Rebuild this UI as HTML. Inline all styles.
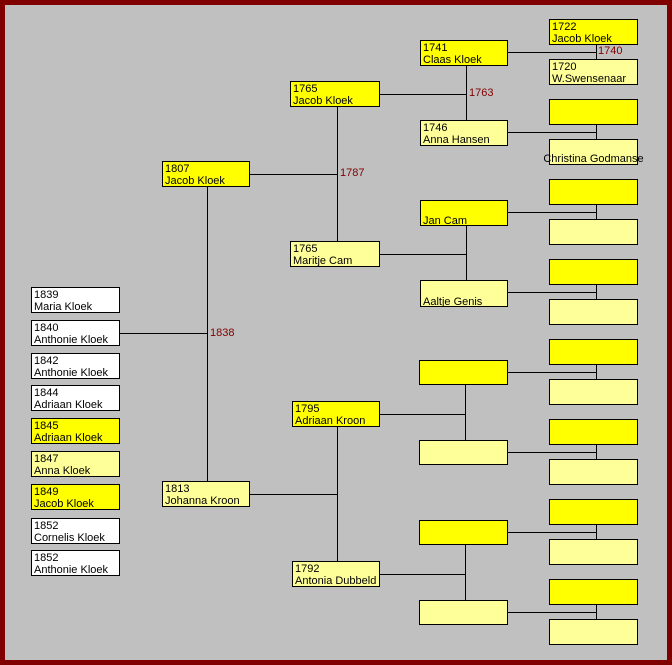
<!DOCTYPE html>
<html><head><meta charset="utf-8"><style>
html,body{margin:0;padding:0}
#f{position:relative;width:672px;height:665px;background:#800000;overflow:hidden}
#c{position:absolute;left:5px;top:5px;width:662px;height:655px;background:#c0c0c0}
.b{position:absolute;box-sizing:border-box;border:1px solid #000;font:11px/12px "Liberation Sans",sans-serif;color:#000;padding:1px 1px 0 2px;white-space:nowrap;height:26px;overflow:hidden}
.y{background:#ffff00}.l{background:#ffff99}.w{background:#fff}
.h,.v{position:absolute;background:#000}
.h{height:1px}.v{width:1px}
.t{position:absolute;font:11px/13px "Liberation Sans",sans-serif;color:#800000}
</style></head><body><div id="f"><div id="c"></div>
<div class="h" style="left:120px;top:333px;width:87px"></div>
<div class="v" style="left:207px;top:186px;height:295px"></div>
<div class="t" style="left:210px;top:327px">1838</div>
<div class="h" style="left:250px;top:174px;width:87px"></div>
<div class="v" style="left:337px;top:107px;height:134px"></div>
<div class="t" style="left:340px;top:167px">1787</div>
<div class="h" style="left:250px;top:494px;width:87px"></div>
<div class="v" style="left:337px;top:427px;height:134px"></div>
<div class="h" style="left:380px;top:94px;width:86px"></div>
<div class="v" style="left:466px;top:66px;height:54px"></div>
<div class="t" style="left:469px;top:87px">1763</div>
<div class="h" style="left:380px;top:254px;width:86px"></div>
<div class="v" style="left:466px;top:226px;height:54px"></div>
<div class="h" style="left:380px;top:414px;width:85px"></div>
<div class="v" style="left:465px;top:385px;height:55px"></div>
<div class="h" style="left:380px;top:574px;width:85px"></div>
<div class="v" style="left:465px;top:545px;height:55px"></div>
<div class="t" style="left:598px;top:45px">1740</div>
<div class="h" style="left:508px;top:52px;width:88px"></div><div class="v" style="left:596px;top:45px;height:14px"></div>
<div class="h" style="left:508px;top:132px;width:88px"></div><div class="v" style="left:596px;top:125px;height:14px"></div>
<div class="h" style="left:508px;top:212px;width:88px"></div><div class="v" style="left:596px;top:205px;height:14px"></div>
<div class="h" style="left:508px;top:292px;width:88px"></div><div class="v" style="left:596px;top:285px;height:14px"></div>
<div class="h" style="left:508px;top:372px;width:88px"></div><div class="v" style="left:596px;top:365px;height:14px"></div>
<div class="h" style="left:508px;top:452px;width:88px"></div><div class="v" style="left:596px;top:445px;height:14px"></div>
<div class="h" style="left:508px;top:532px;width:88px"></div><div class="v" style="left:596px;top:525px;height:14px"></div>
<div class="h" style="left:508px;top:612px;width:88px"></div><div class="v" style="left:596px;top:605px;height:14px"></div>
<div class="b w" style="left:31px;top:287px;width:89px">1839<br>Maria Kloek</div>
<div class="b w" style="left:31px;top:320px;width:89px">1840<br>Anthonie Kloek</div>
<div class="b w" style="left:31px;top:353px;width:89px">1842<br>Anthonie Kloek</div>
<div class="b w" style="left:31px;top:385px;width:89px">1844<br>Adriaan Kloek</div>
<div class="b y" style="left:31px;top:418px;width:89px">1845<br>Adriaan Kloek</div>
<div class="b l" style="left:31px;top:451px;width:89px">1847<br>Anna Kloek</div>
<div class="b y" style="left:31px;top:484px;width:89px">1849<br>Jacob Kloek</div>
<div class="b w" style="left:31px;top:518px;width:89px">1852<br>Cornelis Kloek</div>
<div class="b w" style="left:31px;top:550px;width:89px">1852<br>Anthonie Kloek</div>
<div class="b y" style="left:162px;top:161px;width:88px">1807<br>Jacob Kloek</div>
<div class="b l" style="left:162px;top:481px;width:88px">1813<br>Johanna Kroon</div>
<div class="b y" style="left:290px;top:81px;width:90px">1765<br>Jacob Kloek</div>
<div class="b l" style="left:290px;top:241px;width:90px">1765<br>Maritje Cam</div>
<div class="b y" style="left:292px;top:401px;width:88px">1795<br>Adriaan Kroon</div>
<div class="b l" style="left:292px;top:561px;width:88px">1792<br>Antonia Dubbeld</div>
<div class="b y" style="left:420px;top:40px;width:88px">1741<br>Claas Kloek</div>
<div class="b l" style="left:420px;top:120px;width:88px">1746<br>Anna Hansen</div>
<div class="b y" style="left:420px;top:200px;width:88px;padding-top:2px"><br>Jan Cam</div>
<div class="b l" style="left:420px;top:280px;width:88px;height:27px;padding-top:3px"><br>Aaltje Genis</div>
<div class="b y" style="left:419px;top:360px;width:89px;height:25px"></div>
<div class="b l" style="left:419px;top:440px;width:89px;height:25px"></div>
<div class="b y" style="left:419px;top:520px;width:89px;height:25px"></div>
<div class="b l" style="left:419px;top:600px;width:89px;height:25px"></div>
<div class="b y" style="left:549px;top:19px;width:89px">1722<br>Jacob Kloek</div>
<div class="b l" style="left:549px;top:59px;width:89px">1720<br>W.Swensenaar</div>
<div class="b y" style="left:549px;top:99px;width:89px"></div>
<div class="b l" style="left:549px;top:139px;width:89px;overflow:visible;padding:1px 0 0 0;text-align:center"><br><span style="margin-left:-8px;margin-right:-8px">Christina Godmanse</span></div>
<div class="b y" style="left:549px;top:179px;width:89px"></div>
<div class="b l" style="left:549px;top:219px;width:89px"></div>
<div class="b y" style="left:549px;top:259px;width:89px"></div>
<div class="b l" style="left:549px;top:299px;width:89px"></div>
<div class="b y" style="left:549px;top:339px;width:89px"></div>
<div class="b l" style="left:549px;top:379px;width:89px"></div>
<div class="b y" style="left:549px;top:419px;width:89px"></div>
<div class="b l" style="left:549px;top:459px;width:89px"></div>
<div class="b y" style="left:549px;top:499px;width:89px"></div>
<div class="b l" style="left:549px;top:539px;width:89px"></div>
<div class="b y" style="left:549px;top:579px;width:89px"></div>
<div class="b l" style="left:549px;top:619px;width:89px"></div>
</div></body></html>
